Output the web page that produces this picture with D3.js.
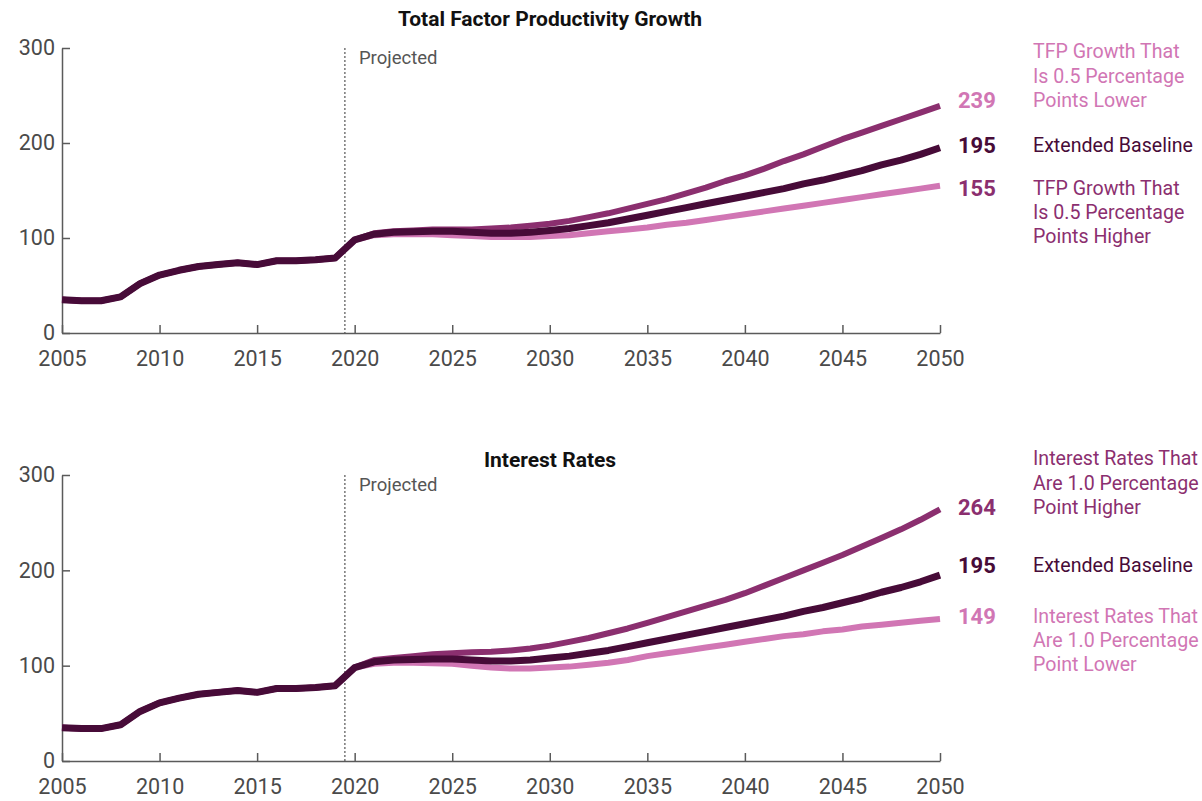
<!DOCTYPE html>
<html>
<head>
<meta charset="utf-8">
<script src="https://cdn.jsdelivr.net/npm/d3@7"></script>
<style>
  body { margin: 0; background: #fff; font-family: Roboto, "Noto Sans", sans-serif; }
  .axis path, .axis line { stroke: #5a5a5a; stroke-width: 1.5; }
  .axis text { font-family: Roboto, sans-serif; font-size: 21.5px; fill: #4a4a4a; }
</style>
</head>
<body>
<script>
//years shown on the x axis
var years = d3.range(2005, 2051);
var xTicks = [2005, 2010, 2015, 2020, 2025, 2030, 2035, 2040, 2045, 2050];
var yTicks = [0, 100, 200, 300];

//history shared by every scenario (2005-2020)
var pastVals = [35, 34, 34, 38, 52, 61, 66, 70, 72, 74, 72, 76, 76, 77, 79, 98];

//projections 2021-2050
var baseline = [104, 106, 106.5, 107, 107, 106, 105, 105, 106, 108, 110, 113, 116, 120, 124,
                128, 132, 136, 140, 144, 148, 152, 157, 161, 166, 171, 177, 182, 188, 195];
var tfpLower = [105, 107, 108, 109, 109, 109, 110, 111, 113, 115, 118, 122, 126, 131, 136,
                141, 147, 153, 160, 166, 173, 181, 188, 196, 204, 211, 218, 225, 232, 239];
var tfpHigher = [103, 104, 104, 104, 103, 102, 101, 101, 101, 102, 103, 105, 107, 109, 111,
                 114, 116, 119, 122, 125, 128, 131, 134, 137, 140, 143, 146, 149, 152, 155];
var rateHigher = [106, 108, 110, 112, 113, 114, 114.5, 116, 118, 121, 125, 129, 134, 139, 145,
                  151, 157, 163, 169, 176, 184, 192, 200, 208, 216, 225, 234, 243, 253, 264];
var rateLower = [102, 103, 103, 102.5, 102, 100, 98, 97, 97, 98, 99, 101, 103, 106, 110,
                 113, 116, 119, 122, 125, 128, 131, 133, 136, 138, 141, 143, 145, 147, 149];

var colDark = "#470b38",
    colMid = "#8b2f6f",
    colPink = "#d176b4";

var width = 1202,
    height = 801;

var svg = d3.select("body")
    .append("svg")
    .attr("width", width)
    .attr("height", height);

var x = d3.scaleLinear()
    .domain([2005, 2050])
    .range([62, 940]);

//panel setup: series drawn back to front, labels on the right
var panels = [
    {
        title: "Total Factor Productivity Growth",
        titleY: 19,
        top: 48, bottom: 333,
        series: [
            {values: tfpHigher, color: colPink, width: 6},
            {values: tfpLower, color: colMid, width: 6},
            {values: baseline, color: colDark, width: 7}
        ],
        labels: [
            {num: "239", lines: ["TFP Growth That", "Is 0.5 Percentage", "Points Lower"], color: colPink, y: 100, anchorLine: 2},
            {num: "195", lines: ["Extended Baseline"], color: colDark, y: 145, anchorLine: 0},
            {num: "155", lines: ["TFP Growth That", "Is 0.5 Percentage", "Points Higher"], color: colMid, y: 188, anchorLine: 0}
        ]
    },
    {
        title: "Interest Rates",
        titleY: 460,
        top: 475, bottom: 761,
        series: [
            {values: rateLower, color: colPink, width: 6},
            {values: rateHigher, color: colMid, width: 6},
            {values: baseline, color: colDark, width: 7}
        ],
        labels: [
            {num: "264", lines: ["Interest Rates That", "Are 1.0 Percentage", "Point Higher"], color: colMid, y: 507, anchorLine: 2},
            {num: "195", lines: ["Extended Baseline"], color: colDark, y: 565, anchorLine: 0},
            {num: "149", lines: ["Interest Rates That", "Are 1.0 Percentage", "Point Lower"], color: colPink, y: 616, anchorLine: 0}
        ]
    }
];

panels.forEach(function(p){
    var y = d3.scaleLinear()
        .domain([0, 300])
        .range([p.bottom, p.top]);

    var g = svg.append("g");

    //title
    g.append("text")
        .attr("x", 550)
        .attr("y", p.titleY)
        .attr("dy", "0.35em")
        .attr("text-anchor", "middle")
        .style("font-size", "21px")
        .style("font-weight", "bold")
        .style("fill", "#111")
        .text(p.title);

    //axes
    g.append("g")
        .attr("class", "axis")
        .attr("transform", "translate(62,0)")
        .call(d3.axisLeft(y).tickValues(yTicks).tickSizeInner(-8).tickSizeOuter(0).tickPadding(7));

    g.append("g")
        .attr("class", "axis")
        .attr("transform", "translate(0," + p.bottom + ")")
        .call(d3.axisBottom(x).tickValues(xTicks).tickFormat(d3.format("d")).tickSizeInner(-8).tickSizeOuter(0).tickPadding(18));

    //projected divider
    g.append("line")
        .attr("x1", x(2019.5)).attr("x2", x(2019.5))
        .attr("y1", p.top).attr("y2", p.bottom)
        .attr("stroke", "#333")
        .attr("stroke-width", 1)
        .attr("stroke-dasharray", "2,2");

    g.append("text")
        .attr("x", x(2019.5) + 14)
        .attr("y", p.top + 10)
        .attr("dy", "0.35em")
        .style("font-size", "18.5px")
        .style("fill", "#555")
        .text("Projected");

    //lines
    var line = d3.line()
        .x(function(d, i){ return x(years[i]); })
        .y(function(d){ return y(d); });

    p.series.forEach(function(s){
        g.append("path")
            .datum(pastVals.concat(s.values))
            .attr("fill", "none")
            .attr("stroke", s.color)
            .attr("stroke-width", s.width)
            .attr("stroke-linejoin", "round")
            .attr("d", line);
    });

    //end labels
    p.labels.forEach(function(l){
        g.append("text")
            .attr("x", 958)
            .attr("y", l.y)
            .attr("dy", "0.35em")
            .style("font-size", "22px")
            .style("font-weight", "bold")
            .style("fill", l.color)
            .text(l.num);

        l.lines.forEach(function(t, i){
            g.append("text")
                .attr("x", 1033)
                .attr("y", l.y + (i - l.anchorLine) * 24.3)
                .attr("dy", "0.35em")
                .style("font-size", "19.6px")
                .style("fill", l.color)
                .text(t);
        });
    });
});
</script>
</body>
</html>
